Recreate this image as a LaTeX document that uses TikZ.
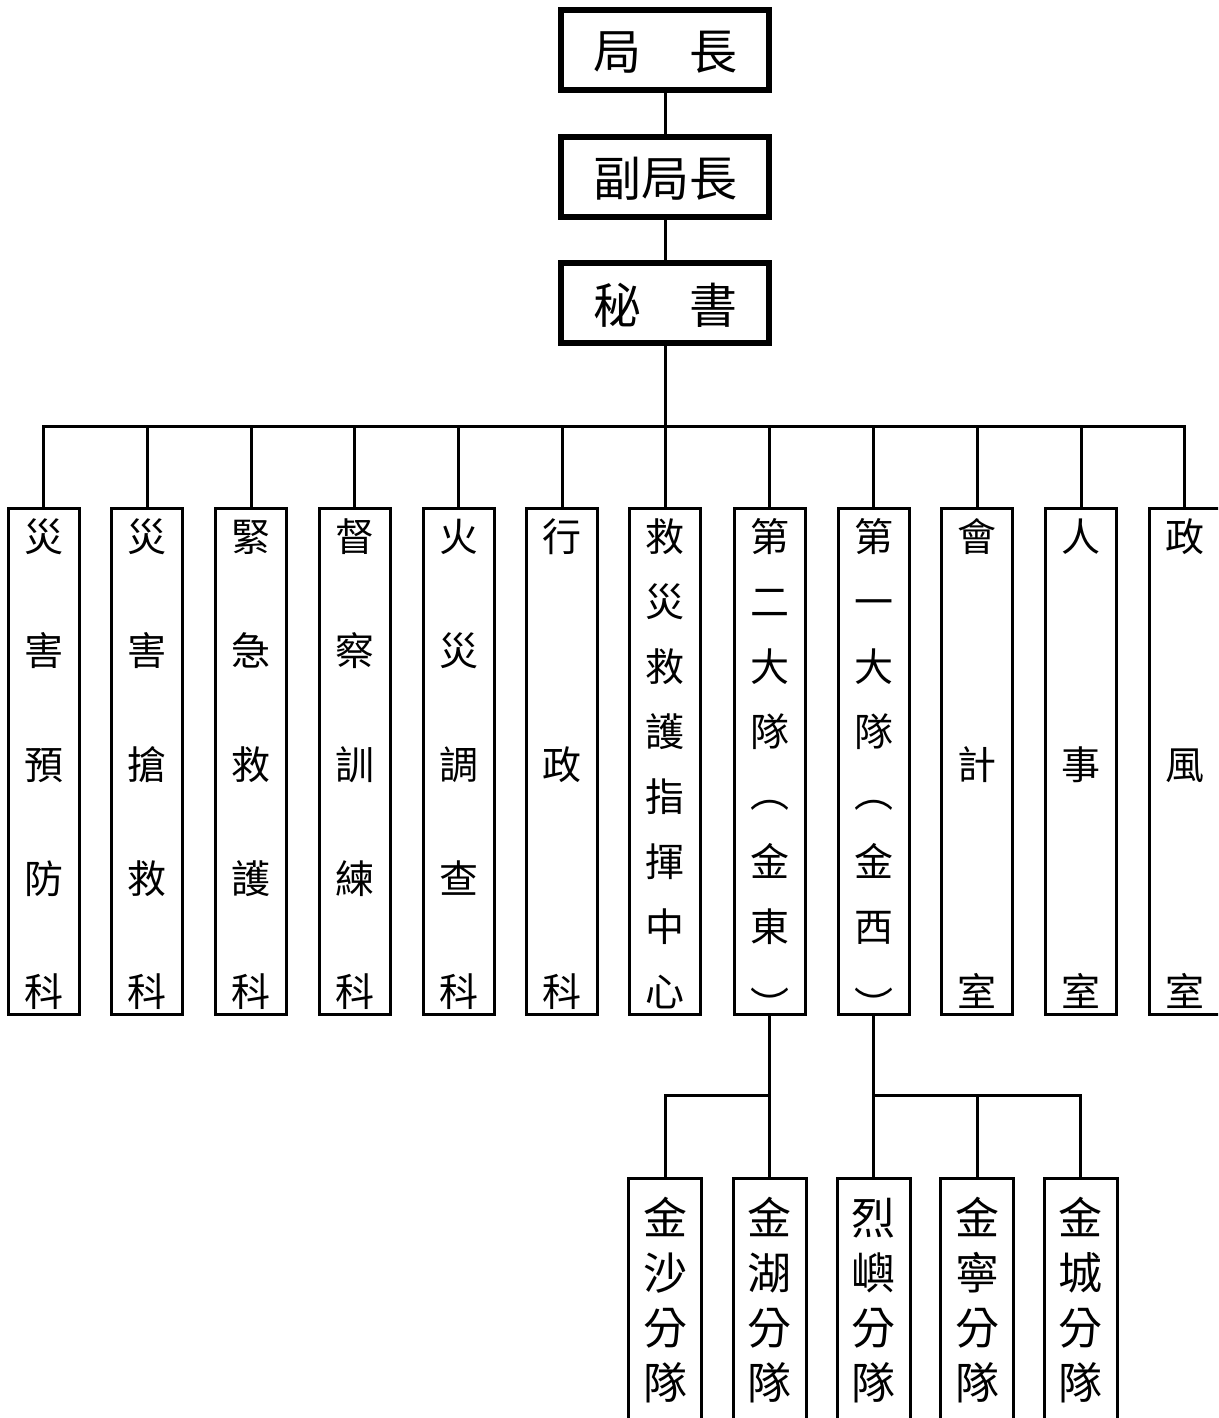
\documentclass[tikz,border=0pt]{standalone}
\usepackage{fontspec}
\newfontfamily\cjk{Noto Sans CJK TC}
\newcommand\ctext[1]{\smash{\lower0.38em\hbox{#1}}}
\newcommand\vcol[4]{\vbox to #1{\offinterlineskip\vskip #2\relax
  \foreach \ch [count=\k] in #4{\ifnum\k>1 \vfill\fi\hbox to 40pt{\hss\smash{\lower0.38em\hbox{\ch}}\hss}}%
  \vskip #3\relax}}
\newcommand\lp{\raisebox{4pt}{︵}}
\newcommand\rp{\raisebox{-14pt}{︶}}
\tikzset{
  topbox/.style={draw, line width=6pt, minimum width=208pt, minimum height=80pt, inner sep=0pt, font=\cjk\fontsize{48}{48}\selectfont},
  colbox/.style={draw, line width=3pt, minimum width=71pt, minimum height=506pt, inner sep=0pt, font=\cjk\fontsize{39}{39}\selectfont},
  subbox/.style={draw, line width=3pt, minimum width=73pt, minimum height=300pt, inner sep=0pt, font=\cjk\fontsize{44}{44}\selectfont},
  conn/.style={line width=3pt}
}
\begin{document}
\begin{tikzpicture}[x=1pt,y=-1pt]
\useasboundingbox (0,0) rectangle (1218,1418);
\clip (0,0) rectangle (1218,1418);
\fill[white] (0,0) rectangle (1218,1418);
% top chain
\node[topbox] (chief) at (665,50) {\raisebox{-2pt}{\ctext{局　長}}};
\node[topbox] (dep) at (665,177) {\raisebox{-2pt}{\ctext{副局長}}};
\node[topbox] (sec) at (665,303) {\raisebox{-5pt}{\ctext{秘　書}}};
% columns
\foreach \i/\x/\t in {
  1/43.5/{災,害,預,防,科},
  2/147.25/{災,害,搶,救,科},
  3/251/{緊,急,救,護,科},
  4/354.75/{督,察,訓,練,科},
  5/458.5/{火,災,調,查,科},
  6/562.25/{行,政,科},
  7/665/{救,災,救,護,指,揮,中,心},
  8/769.5/{第,二,大,隊,\lp,金,東,\rp},
  9/873.5/{第,一,大,隊,\lp,金,西,\rp},
  10/977.25/{會,計,室},
  11/1081/{人,事,室},
  12/1184.75/{政,風,室}}{
  \node[colbox] (c\i) at (\x,761.5) {\vcol{506pt}{28.5pt}{22.5pt}{\t}};
}
% sub units
\foreach \i/\x/\t in {
  1/665/{金,沙,分,隊},
  2/769.5/{金,湖,分,隊},
  3/873.5/{烈,嶼,分,隊},
  4/977/{金,寧,分,隊},
  5/1080.5/{金,城,分,隊}}{
  \node[subbox] (s\i) at (\x,1328) {\vcol{300pt}{40pt}{95pt}{\t}};
}
% connectors
\draw[conn] (chief) -- (dep);
\draw[conn] (dep) -- (sec);
\coordinate (bus) at (665,426);
\draw[conn] (sec.south) -- (bus);
\foreach \i in {1,...,12}{\draw[conn] (bus) -| (c\i.north);}
\coordinate (j2) at (769.5,1095.7);
\coordinate (j1) at (873.5,1095.7);
\draw[conn] (c8.south) -- (j2) -| (s1.north);
\draw[conn] (j2) -- (s2.north);
\draw[conn] (c9.south) -- (j1) -- (s3.north);
\draw[conn] (j1) -| (s4.north);
\draw[conn] (j1) -| (s5.north);
\end{tikzpicture}
\end{document}
